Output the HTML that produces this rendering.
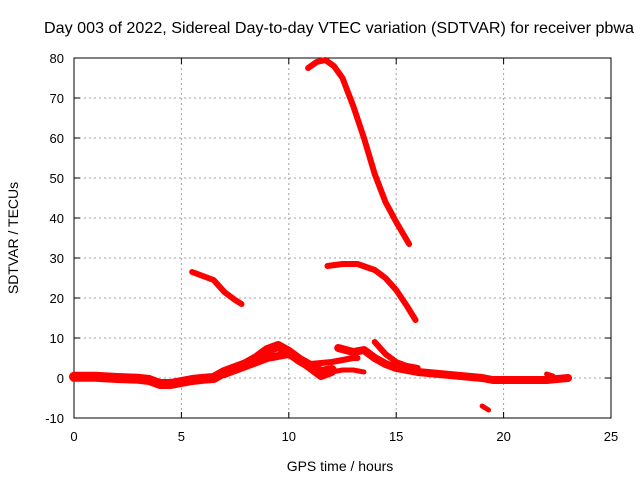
<!DOCTYPE html>
<html><head><meta charset="utf-8"><style>
body{margin:0;background:#fff}
svg{display:block;font-family:"Liberation Sans",sans-serif}
</style></head><body>
<svg id="chart" width="640" height="480" viewBox="0 0 640 480">
<rect width="640" height="480" fill="#fff"/>
<text x="44" y="33" font-size="16" textLength="590" lengthAdjust="spacingAndGlyphs">Day 003 of 2022, Sidereal Day-to-day VTEC variation (SDTVAR) for receiver pbwa</text>
<g id="grid"></g><g id="axes"></g><g id="series"></g>
<text x="340" y="471" font-size="14" text-anchor="middle">GPS time / hours</text>
<text transform="translate(18,238) rotate(-90)" font-size="14" text-anchor="middle">SDTVAR / TECUs</text>
</svg>
<script>
const xTicks=[0,5,10,15,20,25];
const yTicks=[-10,0,10,20,30,40,50,60,70,80];
const baseX=[0,1,2,3,3.5,4,4.5,5,5.5,6,6.5,7,7.5,8,8.5,9,9.5,10,10.5,11,11.5,12];
const baseY=[0.3,0.3,0,-0.2,-0.5,-1.5,-1.5,-1,-0.5,-0.2,0,1.5,2.5,3.5,5,7,8,6.5,4.5,3,1.5,2];
const lowX=[7,8,9,9.5,10,10.5,11,11.5,12];
const lowY=[1,3,5,5.5,6,4.5,2.5,0.5,1.5];
const upX=[10.5,11,12,12.5,13,13.2];
const upY=[4,3.5,4,4.5,5,5];
const smallX=[12,12.5,13,13.5];
const smallY=[1.5,2,2,1.5];
const tailX=[12.3,13,13.5,14,14.5,15,16,17,18,19,19.5,20,21,22,23];
const tailY=[7.5,6.5,7,5,3.5,2.5,1.5,1,0.5,0,-0.5,-0.5,-0.5,-0.5,0];
const steepX=[14,14.5,15,15.5,16];
const steepY=[9,6,4,3,2.5];
const dotX=[19,19.3];
const dotY=[-7,-8];
const blipX=[22,22.3];
const blipY=[1,0.5];
const arcX=[10.9,11.3,11.7,12.1,12.5,13,13.5,14,14.5,15,15.6];
const arcY=[77.5,79,79.5,78,75,68,60,51,44,39,33.5];
const arc2X=[11.8,12.5,13.2,14,14.5,15,15.5,15.9];
const arc2Y=[28,28.5,28.5,27,25,22,18,14.5];
const segX=[5.5,6,6.5,7,7.5,7.8];
const segY=[26.5,25.5,24.5,21.5,19.5,18.5];
const NS="http://www.w3.org/2000/svg";
const X0=74,X1=611,Y0=418,Y1=58;
const sx=v=>X0+(v-0)/(25-0)*(X1-X0);
const sy=v=>Y0-(v+10)/(90)*(Y0-Y1);
function mk(t,a,p){const e=document.createElementNS(NS,t);for(const k in a)e.setAttribute(k,a[k]);p.appendChild(e);return e;}
const grid=document.getElementById('grid'),axes=document.getElementById('axes'),ser=document.getElementById('series');
xTicks.forEach(t=>{
 if(t>0&&t<25){const g=mk('line',{x1:sx(t),x2:sx(t),y1:Y1,y2:Y0,stroke:'#a0a0a0','stroke-dasharray':'2,3'},grid);
 
 }
 const l=mk('text',{x:sx(t),y:Y0+23,'font-size':13,'text-anchor':'middle'},axes);l.textContent=t;
 
 
 mk('line',{x1:sx(t),x2:sx(t),y1:Y0,y2:Y0-6,stroke:'#000'},axes);
 mk('line',{x1:sx(t),x2:sx(t),y1:Y1,y2:Y1+6,stroke:'#000'},axes);
});
yTicks.forEach(t=>{
 if(t>-10&&t<80){const g=mk('line',{x1:X0,x2:X1,y1:sy(t),y2:sy(t),stroke:'#a0a0a0','stroke-dasharray':'2,3'},grid);
 
 }
 const l=mk('text',{x:X0-10,y:sy(t)+5,'font-size':13,'text-anchor':'end'},axes);l.textContent=t;
 
 
 mk('line',{x1:X0,x2:X0+6,y1:sy(t),y2:sy(t),stroke:'#000'},axes);
 mk('line',{x1:X1,x2:X1-6,y1:sy(t),y2:sy(t),stroke:'#000'},axes);
});
const fr=mk('rect',{x:X0,y:Y1,width:X1-X0,height:Y0-Y1,fill:'none',stroke:'#000'},axes);


const tracks=[[baseX,baseY,10],[lowX,lowY,8],[upX,upY,6],[smallX,smallY,5],[tailX,tailY,8],[steepX,steepY,6],[dotX,dotY,5],[blipX,blipY,5],[arcX,arcY,6],[arc2X,arc2Y,6],[segX,segY,6]];
tracks.forEach(([xs,ys,w])=>{
 const pts=xs.map((x,i)=>sx(x)+','+sy(ys[i])).join(' ');
 const p=mk('polyline',{points:pts,fill:'none',stroke:'#ff0000','stroke-width':w,'stroke-linejoin':'round','stroke-linecap':'round'},ser);
 
 
});
</script>
</body></html>
